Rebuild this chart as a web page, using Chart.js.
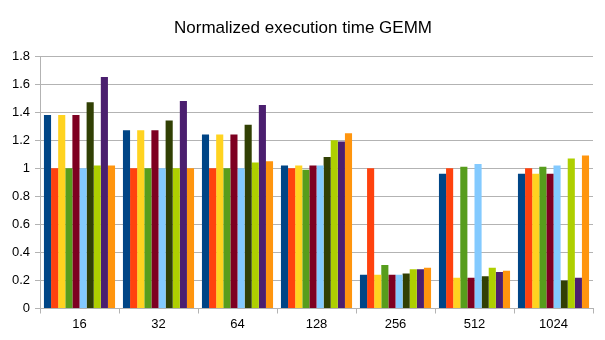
<!DOCTYPE html>
<html>
<head>
<meta charset="utf-8">
<script src="https://cdn.jsdelivr.net/npm/chart.js@4/dist/chart.umd.min.js"></script>
<style>
  html, body { margin: 0; padding: 0; background: #fff; }
  #wrap { width: 605px; height: 340px; }
</style>
</head>
<body>
<div id="wrap"><canvas id="gemm" width="605" height="340"></canvas></div>
<script>
// matrix sizes
const sizes = ['16', '32', '64', '128', '256', '512', '1024'];

// one series per bar colour, in drawing order (no legend in the original)
const s1  = [1.38, 1.27, 1.24, 1.02, 0.24, 0.96, 0.96];
const s2  = [1.00, 1.00, 1.00, 1.00, 1.00, 1.00, 1.00];
const s3  = [1.38, 1.27, 1.24, 1.02, 0.24, 0.22, 0.96];
const s4  = [1.00, 1.00, 1.00, 0.99, 0.31, 1.01, 1.01];
const s5  = [1.38, 1.27, 1.24, 1.02, 0.24, 0.22, 0.96];
const s6  = [1.00, 1.00, 1.00, 1.02, 0.24, 1.03, 1.02];
const s7  = [1.47, 1.34, 1.31, 1.08, 0.25, 0.23, 0.20];
const s8  = [1.02, 1.00, 1.04, 1.20, 0.28, 0.29, 1.07];
const s9  = [1.65, 1.48, 1.45, 1.19, 0.28, 0.26, 0.22];
const s10 = [1.02, 1.00, 1.05, 1.25, 0.29, 0.27, 1.09];

const palette = ['#004586', '#ff420e', '#ffd320', '#579d1c', '#7e0021',
                 '#83caff', '#314004', '#aecf00', '#4b1f6f', '#ff950e'];
const series = [s1, s2, s3, s4, s5, s6, s7, s8, s9, s10];

const gridCol = '#b3b3b3';
Chart.defaults.font.family = '"Liberation Sans", Arial, sans-serif';
Chart.defaults.color = '#000';

const ctx = document.getElementById('gemm').getContext('2d');
new Chart(ctx, {
  type: 'bar',
  data: {
    labels: sizes,
    datasets: series.map((d, i) => ({
      label: 'Series ' + (i + 1),
      data: d,
      backgroundColor: palette[i],
      borderWidth: 0,
      barPercentage: 1.0,
      categoryPercentage: 0.9
    }))
  },
  options: {
    responsive: false,
    animation: false,
    layout: { padding: { left: 1, right: 0, top: 0, bottom: 0 } },
    plugins: {
      legend: { display: false },
      tooltip: { enabled: false },
      title: {
        display: true,
        text: 'Normalized execution time GEMM',
        font: { size: 17, weight: 'normal' },
        color: '#000',
        padding: { top: 18, bottom: 17.6 }
      }
    },
    scales: {
      x: {
        grid: {
          offset: true,
          // only the outer frame lines run through the plot
          color: c => (c.index === 0 || c.index === sizes.length) ? gridCol : 'rgba(0,0,0,0)',
          tickColor: gridCol,
          tickLength: 5
        },
        border: { color: gridCol },
        ticks: { font: { size: 13 }, padding: 3, maxRotation: 0 },
        afterFit: s => { s.height = 31.5; }
      },
      y: {
        min: 0,
        max: 1.8,
        ticks: {
          stepSize: 0.2,
          font: { size: 13 },
          padding: 5,
          callback: v => String(+v.toFixed(1))
        },
        grid: { color: gridCol, tickLength: 5 },
        border: { color: gridCol },
        afterFit: s => { s.width = 39; }
      },
      // empty spacer on the right so the title stays centred on the page
      pad: {
        position: 'right',
        display: true,
        grid: { display: false },
        ticks: { display: false },
        border: { display: false },
        afterFit: s => { s.width = 12; }
      }
    }
  }
});
</script>
</body>
</html>
